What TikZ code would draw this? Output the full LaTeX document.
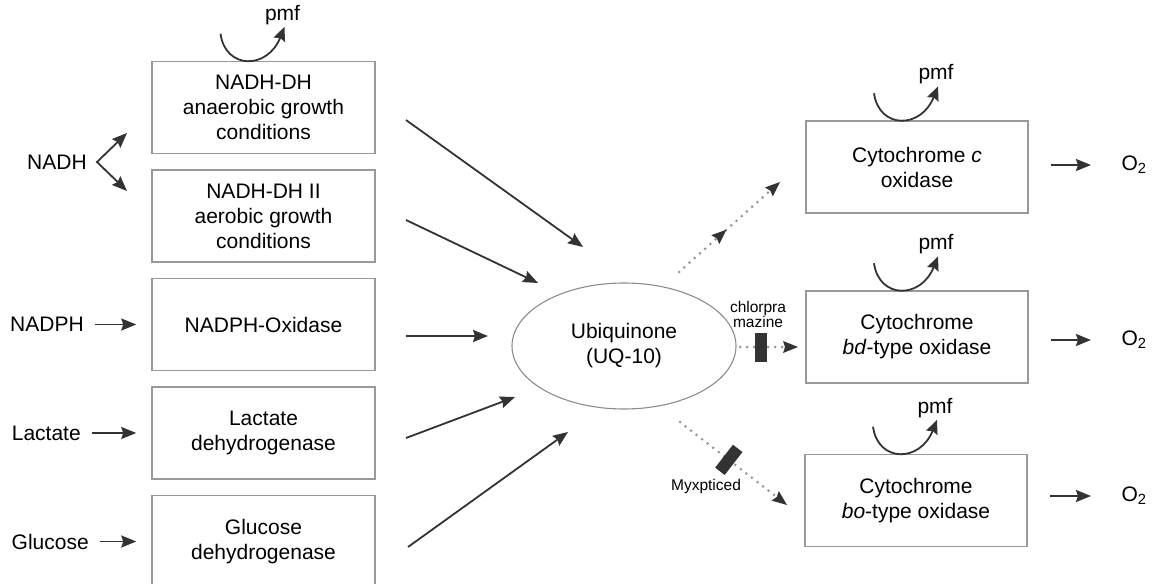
\documentclass[tikz,border=0pt]{standalone}
\usepackage{fontspec}
\setmainfont{Liberation Sans}
\usepackage{tikz}
\usetikzlibrary{arrows.meta, positioning, shapes.geometric, decorations.markings}
\tikzset{
	enzyme/.style={draw=black!40, line width=1.5pt, minimum width=223pt, minimum height=92pt, inner sep=0pt, align=center},
	quinone/.style={ellipse, draw=black!45, line width=1.1pt, minimum width=224pt, minimum height=126pt, inner sep=0pt, align=center},
	pathway/.style={-{Stealth[length=15pt, width=12pt, inset=2pt]}, line width=1.8pt, draw=black!80},
	twoway/.style={{Stealth[length=15pt, width=12pt, inset=2pt]}-{Stealth[length=15pt, width=12pt, inset=2pt]}, line width=1.8pt, draw=black!80, line join=miter},
	feed/.style={pathway, shorten <=8pt, shorten >=15pt},
	pmfloop/.style={-{Stealth[length=14pt, width=12pt, inset=2pt]}, line width=1.8pt, draw=black!80},
	inhibflow/.style={draw=black!40, line width=3pt, dash pattern=on 0pt off 7pt, line cap=round, -{Stealth[length=15pt, width=12pt, inset=2pt, color=black!80, line width=0pt]}},
	blocker/.style={fill=black!80, minimum width=12pt, minimum height=29pt, inner sep=0pt},
	smalltext/.style={font=\fontsize{15.5}{15}\selectfont, align=center, inner sep=1pt},
}
\begin{document}
\begin{tikzpicture}[x=1pt, y=-1pt, font=\fontsize{21}{25}\selectfont, node distance=15pt]
	\useasboundingbox (0,0) rectangle (1155,583);

	\node[enzyme] (ndh1) at (263.5,107.5) {NADH-DH\\anaerobic growth\\conditions};
	\node[enzyme, below=of ndh1] (ndh2) {NADH-DH II\\aerobic growth\\conditions};
	\node[enzyme, below=of ndh2] (nadphox) {NADPH-Oxidase};
	\node[enzyme, below=of nadphox] (ldh) {Lactate\\dehydrogenase};
	\node[enzyme, below=of ldh] (gdh) {Glucose\\dehydrogenase};

	\node (nadh) at (57,162) {NADH};
	\coordinate (fork) at (97,162);
	\coordinate (forkup) at (127,133);
	\coordinate (forkdn) at (127,191);
	\draw[twoway] (forkup) -- (fork) -- (forkdn);

	\node[left=64pt of nadphox] (nadph) {NADPH};
	\node[left=67pt of ldh] (lactate) {Lactate};
	\node[left=59pt of gdh] (glucose) {Glucose};
	\foreach \s/\e in {nadph/nadphox, lactate/ldh, glucose/gdh}
		\draw[feed] (\s.east) -- (\s.east -| \e.west);

	\node[quinone] (uq) at (624,346) {Ubiquinone\\(UQ-10)};
	\foreach \i/\sx/\sy/\ex/\ey in {1/406/120/583/247, 2/406/220/538/283, 3/406/336/488/336, 4/406/438/515/397, 5/408/547/568/432} {
		\coordinate (in\i-s) at (\sx,\sy);
		\coordinate (in\i-e) at (\ex,\ey);
		\draw[pathway] (in\i-s) -- (in\i-e);
	}

	\node[enzyme, minimum width=222pt] (cytc) at (917,167) {Cytochrome \textit{c}\\oxidase};
	\node[enzyme, minimum width=222pt] (cytbd) at (917,337) {Cytochrome\\\textit{bd}-type oxidase};
	\node[enzyme, minimum width=222pt] (cytbo) at (916,500.5) {Cytochrome\\\textit{bo}-type oxidase};

	\node (o2c) at (1134,165) {O\textsubscript{2}};
	\node (o2bd) at (1134,340) {O\textsubscript{2}};
	\node (o2bo) at (1134,496) {O\textsubscript{2}};
	\foreach \b/\o in {cytc/o2c, cytbd/o2bd, cytbo/o2bo}
		\draw[pathway, shorten <=22pt, shorten >=27pt] (\o.west -| \b.east) -- (\o.west);

	\foreach \b in {ndh1, cytc, cytbd, cytbo} {
		\draw[pmfloop] ([shift={(-43,-27)}]\b.north) .. controls ([shift={(-38,9)}]\b.north) and ([shift={(4,9)}]\b.north) .. ([shift={(21,-34)}]\b.north);
		\node (pmf-\b) at ([shift={(19,-46)}]\b.north) {pmf};
	}

	\coordinate (toc-s) at (679,272);
	\coordinate (toc-e) at (780,182);
	\draw[inhibflow, postaction={decorate}, decoration={markings, mark=at position 0.47 with {\arrow{Stealth[length=15pt, width=12pt, inset=2pt, color=black!80, line width=0pt]}}}] (toc-s) -- (toc-e);

	\coordinate (tobd-s) at (740,347);
	\coordinate (tobd-e) at (798,347);
	\draw[inhibflow] (tobd-s) -- node[blocker, sloped, pos=0.36] (chlor) {} (tobd-e);
	\node[smalltext] (chlorlbl) at (758,314) {chlorpra\\mazine};

	\coordinate (tobo-s) at (680,422);
	\coordinate (tobo-e) at (787,505);
	\draw[inhibflow] (tobo-s) -- node[blocker, sloped, pos=0.456] (myx) {} (tobo-e);
	\node[smalltext] (myxlbl) at (706,486) {Myxpticed};
\end{tikzpicture}
\end{document}
